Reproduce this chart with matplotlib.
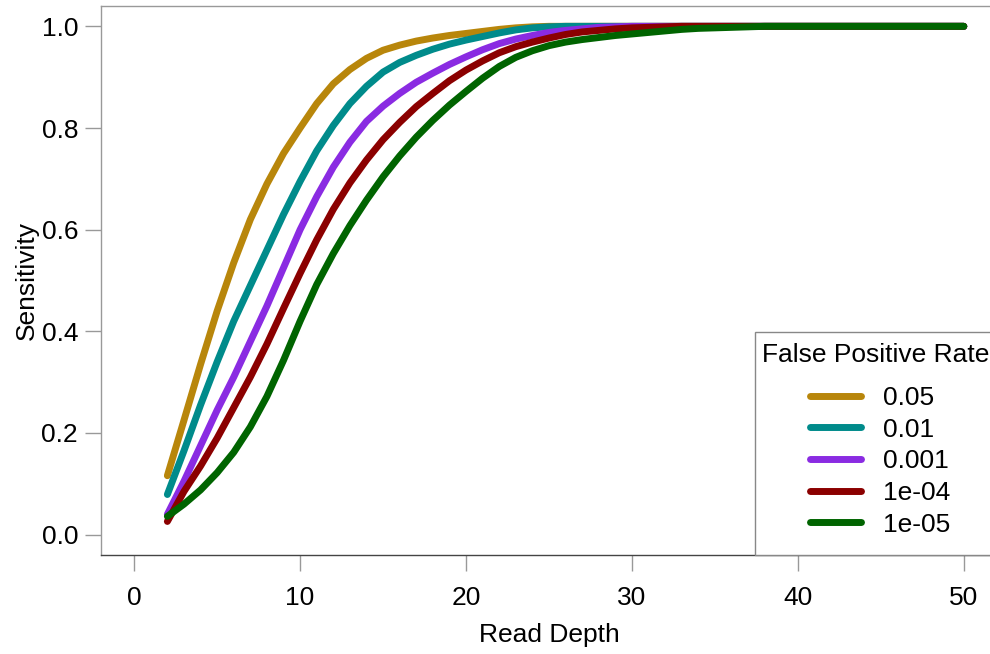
import numpy as np
import matplotlib.pyplot as plt
from matplotlib.patches import Rectangle

plt.rcParams['font.family'] = ['Liberation Sans', 'DejaVu Sans']

# read depth 2..50
depth = np.arange(2, 51)

# sensitivity per false positive rate
fpr_005 = [0.116, 0.225, 0.335, 0.44, 0.535, 0.62, 0.69, 0.75, 0.80, 0.848,
           0.887, 0.915, 0.937, 0.953, 0.963, 0.971, 0.977, 0.982, 0.986, 0.99,
           0.994, 0.997, 0.999] + [1.0] * 26
fpr_001 = [0.079, 0.165, 0.255, 0.34, 0.42, 0.49, 0.56, 0.63, 0.695, 0.755,
           0.805, 0.848, 0.882, 0.91, 0.929, 0.943, 0.955, 0.965, 0.973, 0.98,
           0.987, 0.993, 0.997, 0.999] + [1.0] * 25
fpr_0001 = [0.04, 0.105, 0.175, 0.245, 0.31, 0.38, 0.45, 0.525, 0.60, 0.665,
            0.723, 0.772, 0.813, 0.843, 0.868, 0.89, 0.908, 0.925, 0.94, 0.954,
            0.966, 0.975, 0.982, 0.988, 0.992, 0.995, 0.998, 0.999] + [1.0] * 21
fpr_1e4 = [0.026, 0.085, 0.135, 0.19, 0.25, 0.31, 0.375, 0.445, 0.514, 0.58,
           0.64, 0.692, 0.737, 0.777, 0.811, 0.842, 0.868, 0.893, 0.914, 0.932,
           0.948, 0.96, 0.969, 0.977, 0.984, 0.989, 0.992, 0.995, 0.997, 0.998,
           0.999] + [1.0] * 18
fpr_1e5 = [0.036, 0.06, 0.088, 0.122, 0.162, 0.212, 0.272, 0.343, 0.42, 0.492,
           0.553, 0.608, 0.658, 0.704, 0.745, 0.782, 0.815, 0.845, 0.872, 0.898,
           0.921, 0.939, 0.952, 0.962, 0.969, 0.974, 0.978, 0.982, 0.985, 0.988,
           0.991, 0.994, 0.996, 0.997, 0.998, 0.999] + [1.0] * 13

series = [fpr_005, fpr_001, fpr_0001, fpr_1e4, fpr_1e5]
labels = ['0.05', '0.01', '0.001', '1e-04', '1e-05']
colors = ['#B8860B', '#008B8B', '#8A2BE2', '#8B0000', '#006400']

fig = plt.figure(figsize=(9.9, 6.54), dpi=100)
ax = fig.add_axes([101 / 990, 1 - 555 / 654, 896 / 990, 549 / 654])

for vals, lab, col in zip(series, labels, colors):
    ax.plot(depth, vals, color=col, lw=5, solid_capstyle='round', label=lab)

ax.set_xlim(-2, 52)
ax.set_ylim(-0.04, 1.04)
ax.set_xticks([0, 10, 20, 30, 40, 50])
ax.set_yticks([0.0, 0.2, 0.4, 0.6, 0.8, 1.0])
ax.set_yticklabels(['0.0', '0.2', '0.4', '0.6', '0.8', '1.0'])

for s in ax.spines.values():
    s.set_color('#999999')
    s.set_linewidth(1)
ax.spines['bottom'].set_color('#444444')
ax.tick_params(length=11.5, width=1, color='#999999', labelsize=19, pad=5)
ax.tick_params(axis='x', pad=11)

ax.set_xlabel('Read Depth', fontsize=19, labelpad=9)
ax.set_ylabel('Sensitivity', fontsize=19, labelpad=2)

# legend box in the R style: frame, left-aligned title, indented entries
px = lambda x: (x - 101) / 896
py = lambda y: (555 - y) / 549
ax.add_patch(Rectangle((px(755), 0), 1.2, py(332), transform=ax.transAxes,
                       facecolor='white', edgecolor='#888888', lw=1,
                       zorder=5, clip_on=False))
ax.text(px(762), py(355), 'False Positive Rate', transform=ax.transAxes,
        ha='left', va='center', fontsize=19, zorder=6)
leg = ax.legend(loc='upper left', bbox_to_anchor=(px(810), py(386)),
                fontsize=19, frameon=False, handlelength=1.95,
                handletextpad=0.8, labelspacing=0.29, borderpad=0,
                borderaxespad=0)
leg.set_zorder(7)

fig.savefig('out.png', dpi=100)
